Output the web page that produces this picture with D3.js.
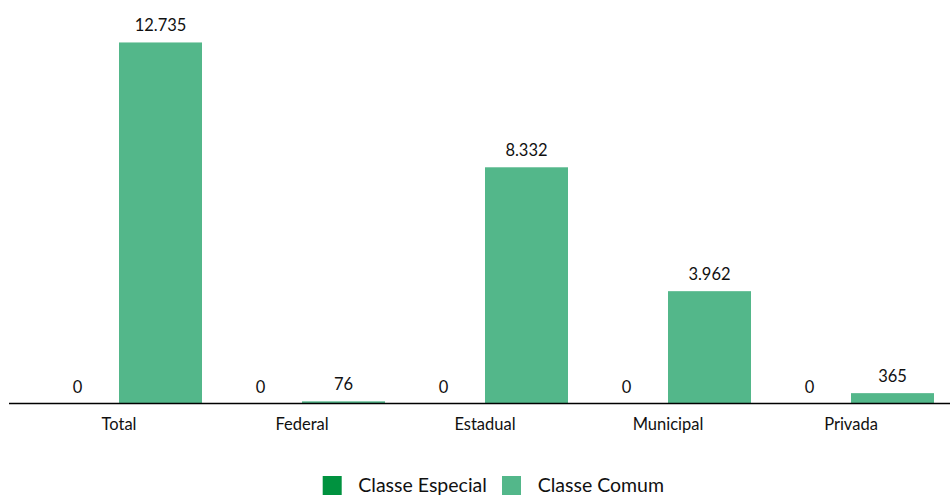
<!DOCTYPE html>
<html>
<head>
<meta charset="utf-8">
<script src="https://cdn.jsdelivr.net/npm/d3@7"></script>
<style>
  html, body { margin: 0; padding: 0; background: #fff; }
  svg { display: block; }
  text { font-family: Lato, "Open Sans", sans-serif; fill: #111; }
</style>
</head>
<body>
<svg id="chart" width="950" height="497"></svg>
<script>
const categories = ["Total", "Federal", "Estadual", "Municipal", "Privada"];
const seriesNames = ["Classe Especial", "Classe Comum"];
const especial = [0, 0, 0, 0, 0];
const comum = [12735, 76, 8332, 3962, 365];
const colors = ["#00923F", "#53B78A"];

const W = 950, H = 497;
const svg = d3.select("#chart");
const baseY = 403.5;

const locale = d3.formatLocale({ decimal: ",", thousands: ".", grouping: [3], currency: ["R$", ""] });
const fmt = locale.format(",d");

const x0 = d3.scaleBand().domain(categories).range([27.5, 942.5]).padding(0);
const x1 = d3.scaleBand().domain(seriesNames).range([0, x0.bandwidth()]).paddingInner(0).paddingOuter(0.1024);
const y = d3.scaleLinear().domain([0, 14000]).range([baseY, baseY - 14000 * 0.02835]);

const seriesValues = [especial, comum];
const data = [];
categories.forEach((c, i) => {
  seriesNames.forEach((s, j) => {
    data.push({ cat: c, series: s, value: seriesValues[j][i], color: colors[j] });
  });
});

const g = svg.append("g");
g.selectAll("rect.bar").data(data).enter().append("rect")
  .attr("class", "bar")
  .attr("x", d => x0(d.cat) + x1(d.series))
  .attr("width", x1.bandwidth())
  .attr("y", d => y(d.value))
  .attr("height", d => baseY - y(d.value))
  .attr("fill", d => d.color);

g.selectAll("text.val").data(data).enter().append("text")
  .attr("class", "val")
  .attr("x", d => x0(d.cat) + x1(d.series) + x1.bandwidth() / 2)
  .attr("y", d => y(d.value) - 11)
  .attr("text-anchor", "middle")
  .style("font-size", "16.5px")
  .text(d => fmt(d.value));

// baseline axis
const axis = d3.axisBottom(x0).tickSize(0).tickPadding(0);
const axG = svg.append("g").attr("transform", `translate(0,${baseY})`).call(axis);
axG.select(".domain").remove();
axG.selectAll(".tick text")
  .attr("y", 26)
  .attr("dy", 0)
  .style("font-size", "16.5px")
  .style("font-family", "Lato, 'Open Sans', sans-serif")
  .attr("fill", "#111");
svg.append("line")
  .attr("x1", 9).attr("x2", W)
  .attr("y1", baseY).attr("y2", baseY)
  .attr("stroke", "#000").attr("stroke-width", 1.3);

// legend
const legendItems = [
  { name: seriesNames[0], color: colors[0], sx: 322.7, tx: 358.3 },
  { name: seriesNames[1], color: colors[1], sx: 502, tx: 537.7 }
];
const lg = svg.append("g");
legendItems.forEach(it => {
  lg.append("rect").attr("x", it.sx).attr("y", 476).attr("width", 19).attr("height", 19).attr("fill", it.color);
  lg.append("text").attr("x", it.tx).attr("y", 491.5).style("font-size", "19.5px").text(it.name);
});
</script>
</body>
</html>
